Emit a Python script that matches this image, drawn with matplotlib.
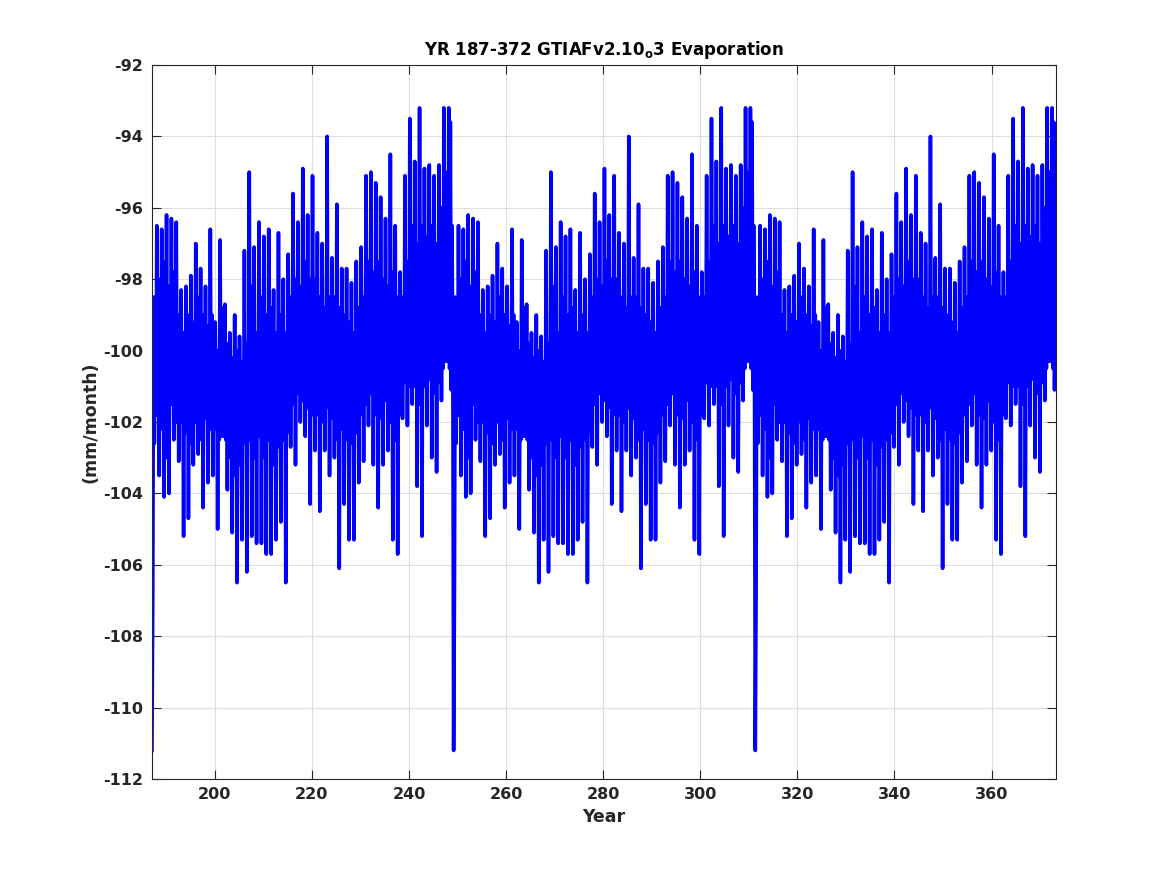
import numpy as np
import matplotlib
matplotlib.use("Agg")
import matplotlib.pyplot as plt

plt.rcParams['font.family'] = "DejaVu Sans"
plt.rcParams['font.weight'] = "bold"
plt.rcParams['mathtext.fontset'] = 'dejavusans'
plt.rcParams['axes.unicode_minus'] = False

# one 62-year forcing cycle (187-248), 6 readings per year, mm/month
# the model run repeats this cycle three times (187-248, 249-310, 311-372)
evap_cycle = [
    [-111.2, -106.9, -98.5, -102.6, -99.6, -101.8],  # 187
    [-96.5, -101.8, -98.0, -103.5, -99.2, -101.2],
    [-96.6, -102.2, -97.5, -104.1, -99.5, -101.6],
    [-96.2, -103.0, -98.2, -104.0, -99.8, -101.4],
    [-96.3, -101.5, -97.8, -102.5, -99.4, -102.0],
    [-96.4, -102.0, -99.0, -103.1, -99.9, -101.7],
    [-98.3, -102.0, -99.5, -105.2, -100.2, -102.3],
    [-98.2, -101.8, -99.0, -104.7, -99.8, -102.6],
    [-97.9, -101.5, -99.2, -103.2, -100.1, -102.0],
    [-97.0, -101.8, -98.5, -102.9, -99.6, -101.5],
    [-97.7, -102.5, -99.0, -104.4, -99.9, -101.9],
    [-98.2, -101.5, -99.3, -103.7, -100.3, -102.2],
    [-96.6, -102.0, -99.0, -103.5, -99.7, -101.6],
    [-99.2, -102.2, -100.0, -105.0, -100.4, -102.5],  # 200
    [-96.9, -101.3, -98.8, -102.4, -99.5, -101.8],
    [-98.7, -102.5, -99.8, -103.9, -100.2, -102.8],
    [-99.5, -103.0, -100.2, -105.1, -100.6, -102.4],
    [-99.0, -103.5, -100.0, -106.5, -100.8, -102.9],
    [-99.6, -103.2, -100.5, -105.3, -100.3, -102.6],
    [-97.2, -102.0, -99.8, -106.2, -100.1, -102.3],
    [-95.0, -102.5, -98.2, -105.2, -99.6, -101.9],
    [-97.1, -103.0, -99.5, -105.4, -100.0, -102.4],
    [-96.4, -102.2, -98.5, -105.4, -99.7, -102.0],
    [-96.8, -103.0, -99.0, -105.7, -99.9, -102.5],  # 210
    [-96.6, -102.5, -98.8, -105.7, -99.5, -102.2],
    [-98.3, -103.2, -99.5, -105.3, -100.2, -102.7],
    [-96.7, -101.8, -99.0, -104.8, -99.6, -102.1],
    [-98.0, -102.5, -99.5, -106.5, -100.0, -102.3],
    [-97.3, -101.0, -98.5, -102.7, -99.4, -101.5],
    [-95.6, -101.5, -98.0, -103.2, -99.2, -101.2],
    [-96.4, -100.8, -98.2, -102.0, -99.0, -101.4],
    [-94.9, -101.0, -97.5, -102.4, -98.9, -101.6],
    [-96.2, -101.5, -98.0, -104.3, -99.3, -101.8],
    [-95.1, -101.2, -98.0, -102.8, -99.1, -101.3],  # 220
    [-96.7, -101.8, -98.5, -104.5, -99.5, -102.0],
    [-97.0, -101.2, -98.8, -102.8, -99.4, -101.6],
    [-94.0, -101.5, -98.5, -103.5, -99.2, -101.9],
    [-97.4, -101.5, -98.5, -103.0, -99.6, -101.7],
    [-95.9, -102.5, -98.8, -106.1, -99.8, -102.2],
    [-97.7, -101.8, -99.0, -104.3, -99.9, -102.4],
    [-97.7, -102.5, -99.2, -105.3, -100.1, -102.6],
    [-98.1, -102.0, -99.5, -105.3, -100.0, -102.3],
    [-97.5, -101.5, -98.8, -103.7, -99.5, -101.8],
    [-97.1, -101.2, -98.5, -103.1, -99.3, -101.5],  # 230
    [-95.1, -100.8, -97.5, -102.1, -98.8, -101.2],
    [-95.0, -101.2, -97.8, -103.2, -99.0, -101.6],
    [-95.3, -101.8, -97.5, -104.4, -99.2, -101.9],
    [-95.7, -101.5, -98.0, -103.2, -99.1, -101.4],
    [-96.3, -101.0, -98.2, -102.8, -99.3, -101.7],
    [-94.5, -102.0, -97.8, -105.3, -99.0, -102.1],
    [-96.5, -102.5, -98.5, -105.7, -99.4, -101.8],
    [-97.8, -100.8, -98.5, -101.9, -99.2, -100.9],
    [-95.1, -100.5, -97.5, -102.1, -98.6, -101.0],
    [-93.5, -100.2, -96.5, -101.5, -98.2, -100.8],  # 240
    [-94.7, -101.0, -97.0, -103.8, -98.5, -101.3],
    [-93.2, -101.5, -96.5, -105.2, -98.3, -101.0],
    [-94.9, -100.5, -96.8, -102.1, -98.0, -100.7],
    [-94.8, -100.8, -96.5, -103.0, -98.1, -101.2],
    [-95.1, -101.0, -97.0, -103.4, -98.4, -100.9],
    [-94.8, -100.2, -96.0, -101.4, -97.8, -100.5],
    [-93.2, -99.8, -95.0, -100.3, -97.0, -99.6],
    [-93.2, -100.5, -93.6, -101.1, -96.5, -100.0],  # 248
]
n_cycles = 3
yr_start, yr_end = 187, 372

evap = np.tile(np.ravel(evap_cycle), n_cycles)
time = np.linspace(yr_start + 0.05, yr_end + 1.3, len(evap))

fig = plt.figure(figsize=(11.67, 8.75), dpi=100)
ax = fig.add_axes([0.130, 0.1097, 0.775, 0.816])

ax.plot(time, evap, color=(0, 0, 1), lw=2.6)

ax.set_xlim(yr_start, yr_end + 1.3)
ax.set_ylim(-112, -92)
ax.set_xticks(np.arange(200, 361, 20))
ax.set_yticks(np.arange(-112, -91, 2))
ax.grid(True, color=(0.87, 0.87, 0.87), lw=0.8)
ax.set_axisbelow(True)

dark = (0.15, 0.15, 0.15)
for sp in ax.spines.values():
    sp.set_color(dark)
    sp.set_linewidth(0.8)
ax.tick_params(direction="in", length=6.5, width=0.8, colors=dark,
               top=True, right=True, labelsize=11.5, pad=6)
for lab in ax.get_xticklabels() + ax.get_yticklabels():
    lab.set_fontweight("bold")

ax.set_xlabel("Year", fontsize=12.5, fontweight="bold", color=dark, labelpad=4)
ax.set_ylabel("(mm/month)", fontsize=12.5, fontweight="bold", color=dark, labelpad=3)
ax.set_title(r"YR 187-372 GTIAFv2.10$_\mathbf{o}$3 Evaporation",
             fontsize=12, fontweight="bold", color="black", pad=7)

fig.savefig("out.png", dpi=100)
